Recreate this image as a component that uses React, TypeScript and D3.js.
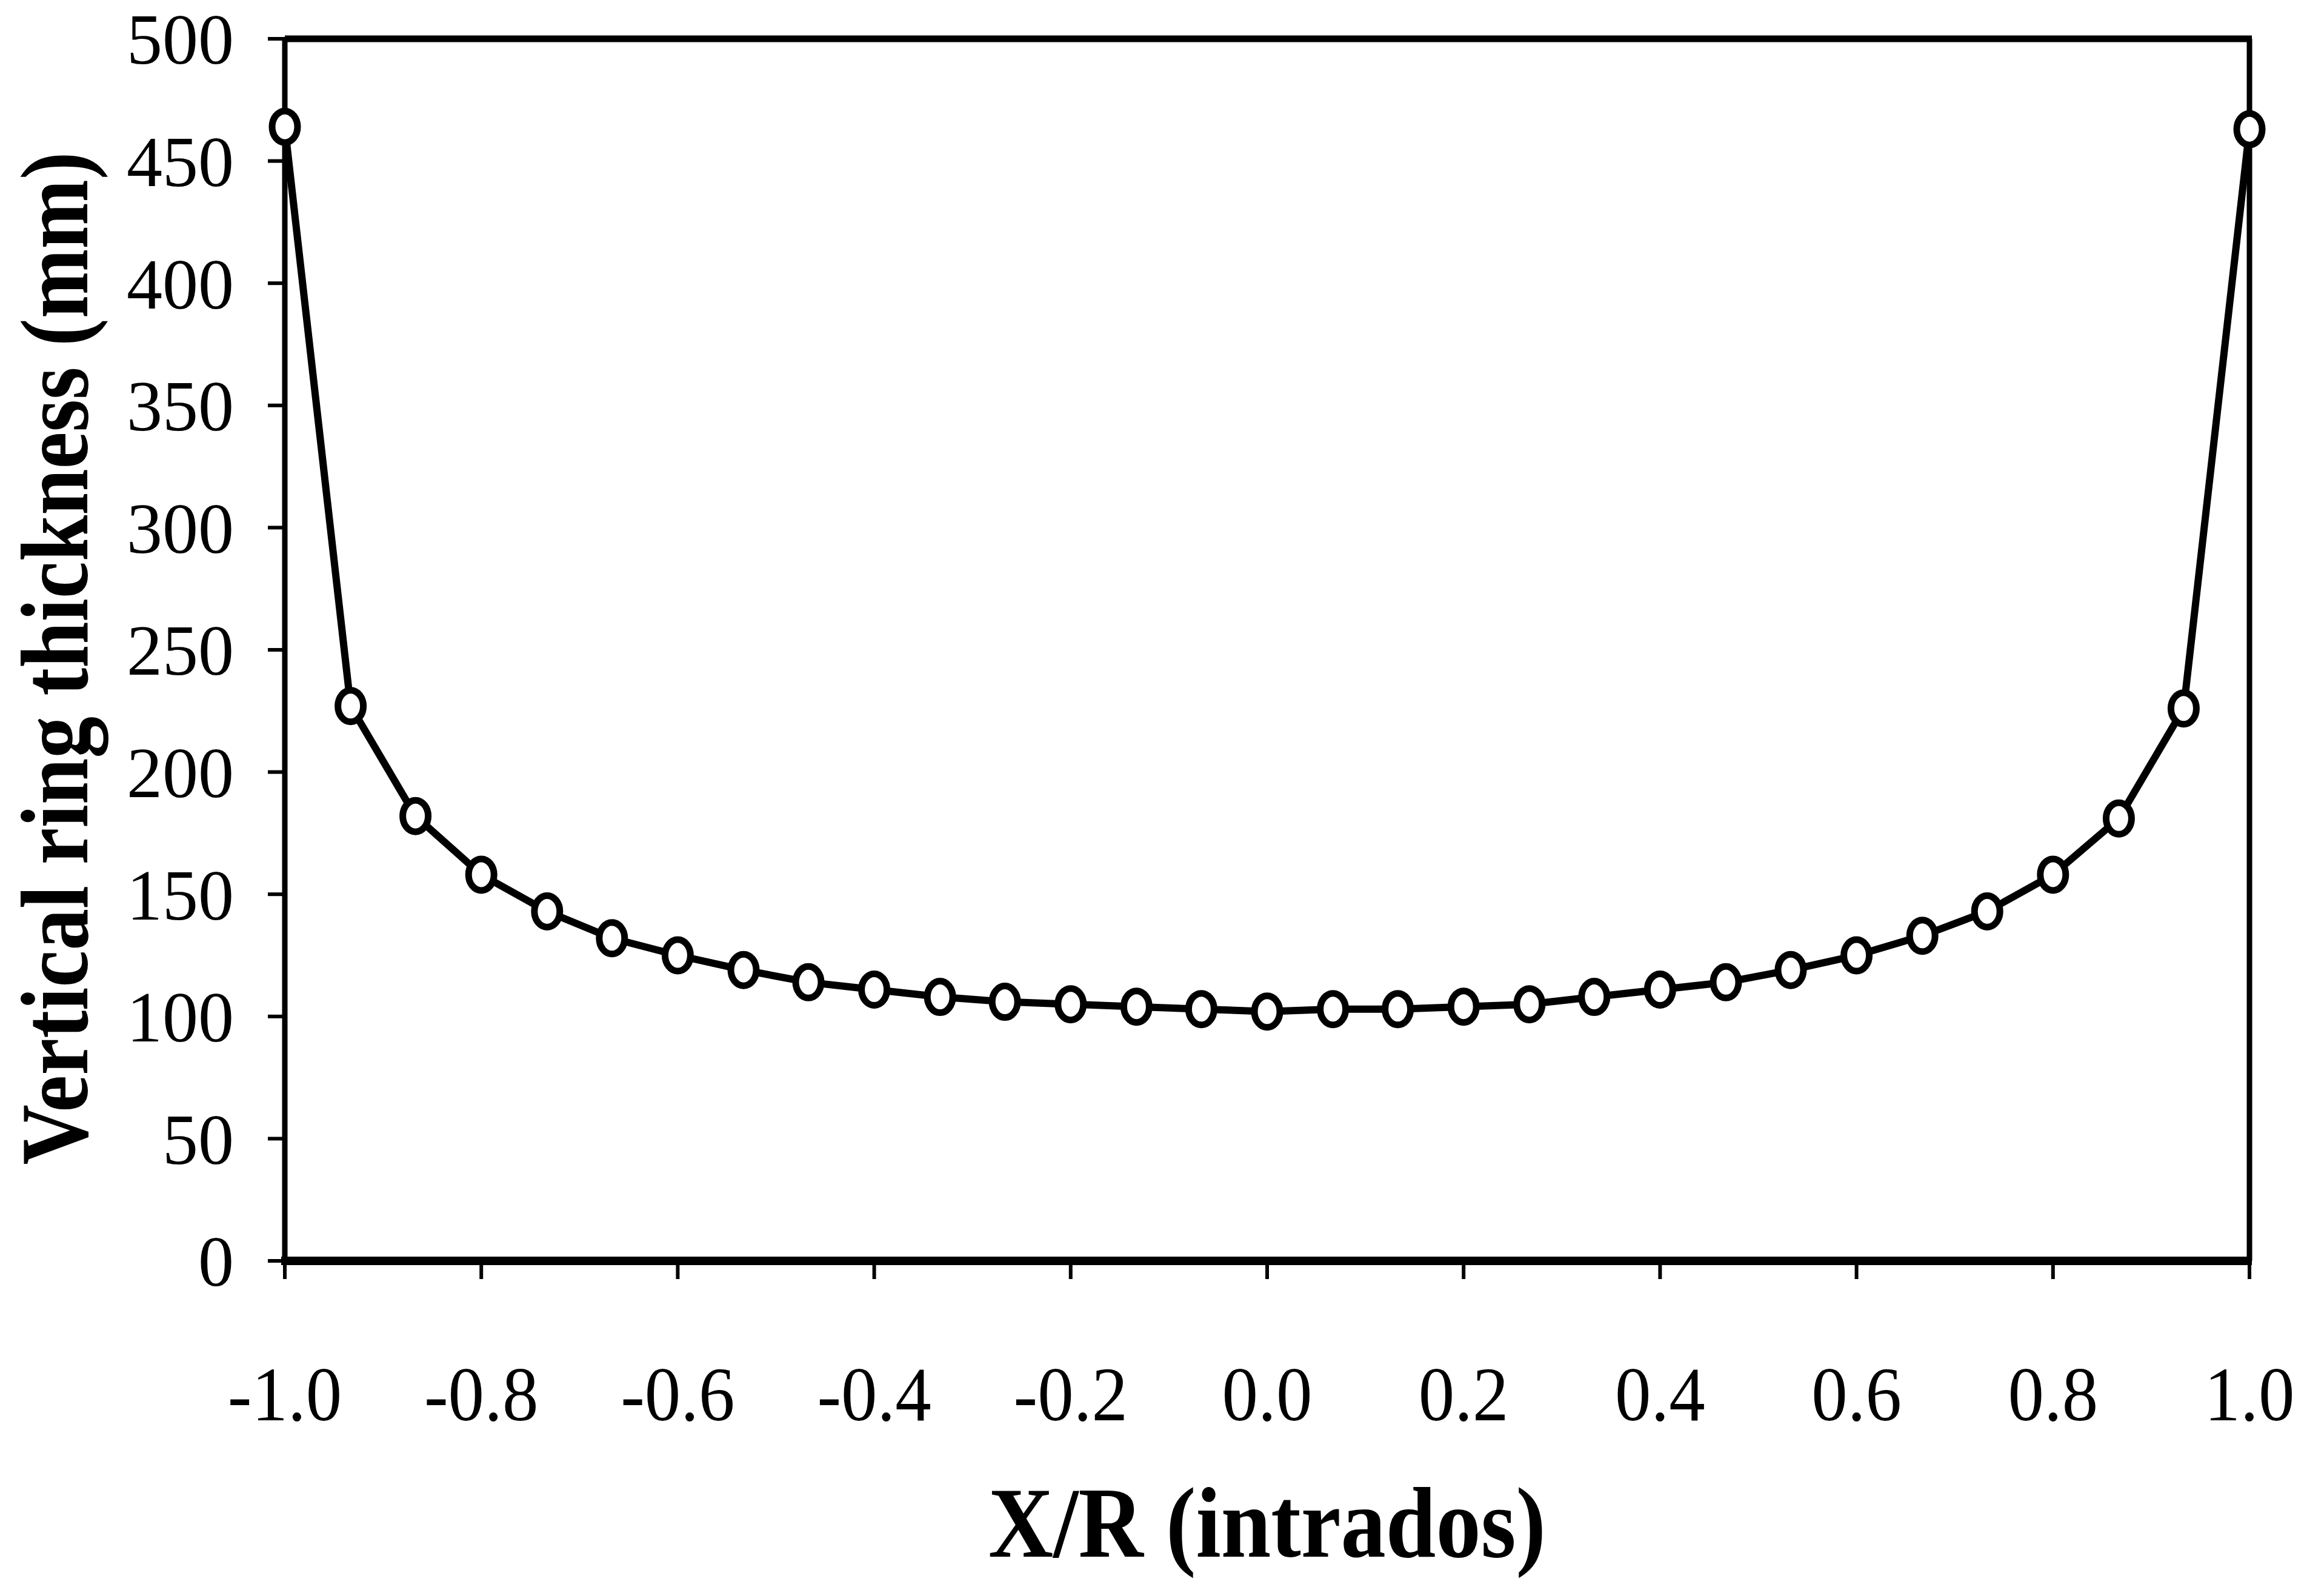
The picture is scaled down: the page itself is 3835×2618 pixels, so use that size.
import React from "react";
import * as d3 from "d3";

const xRatio: number[] = [
  -1.0, -0.933, -0.867, -0.8, -0.733, -0.667, -0.6, -0.533, -0.467, -0.4, -0.333,
  -0.267, -0.2, -0.133, -0.067, 0.0, 0.067, 0.133, 0.2, 0.267, 0.333, 0.4,
  0.467, 0.533, 0.6, 0.667, 0.733, 0.8, 0.867, 0.933, 1.0,
];
const thickness: number[] = [
  464, 227, 182, 158, 143, 132, 125, 119, 114, 111, 108, 106, 105, 104, 103, 102,
  103, 103, 104, 105, 108, 111, 114, 119, 125, 133, 143, 158, 181, 226, 463,
];
const xTicks: number[] = [-1.0, -0.8, -0.6, -0.4, -0.2, 0.0, 0.2, 0.4, 0.6, 0.8, 1.0];
const yTicks: number[] = [0, 50, 100, 150, 200, 250, 300, 350, 400, 450, 500];
const xTitle = "X/R (intrados)";
const yTitle = "Vertical ring thickness (mm)";

const W = 3835;
const H = 2618;
const FONT = "'Liberation Serif', 'Times New Roman', serif";

export default function App() {
  const left = 470;
  const right = 3712;
  const top = 64;
  const bottom = 2080;
  const x = d3.scaleLinear().domain([-1, 1]).range([left, right]);
  const y = d3.scaleLinear().domain([0, 500]).range([bottom, top]);
  const pts = xRatio.map((v, i) => [v, thickness[i]] as [number, number]);
  const line = d3
    .line<[number, number]>()
    .x((d) => x(d[0]))
    .y((d) => y(d[1]));

  return (
    <svg
      width={W}
      height={H}
      viewBox={`0 0 ${W} ${H}`}
      style={{ position: "absolute", left: 0, top: 0, display: "block", background: "#fff" }}
    >
      <rect x={0} y={0} width={W} height={H} fill="#fff" />
      {/* frame */}
      <line x1={left} y1={top} x2={right + 4} y2={top} stroke="#000" strokeWidth={11} />
      <line x1={right} y1={top} x2={right} y2={bottom} stroke="#000" strokeWidth={9} />
      <line x1={left} y1={top} x2={left} y2={bottom} stroke="#000" strokeWidth={9} />
      <line x1={left - 6} y1={bottom} x2={right + 4} y2={bottom} stroke="#000" strokeWidth={14} />
      {/* y ticks */}
      {yTicks.map((t) => (
        <g key={"y" + t}>
          <line x1={left - 28} x2={left} y1={y(t)} y2={y(t)} stroke="#000" strokeWidth={6} />
          <text
            transform={`translate(386,${y(t)})`}
            dy="0.35em"
            textAnchor="end"
            fontFamily={FONT}
            fontSize={118}
            fill="#000"
          >
            {t}
          </text>
        </g>
      ))}
      {/* x ticks */}
      {xTicks.map((t) => (
        <g key={"x" + t}>
          <line x1={x(t)} x2={x(t)} y1={bottom} y2={bottom + 30} stroke="#000" strokeWidth={6} />
          <text
            transform={`translate(${x(t)},2343) scale(0.93,1)`}
            textAnchor="middle"
            fontFamily={FONT}
            fontSize={128}
            fill="#000"
          >
            {t.toFixed(1)}
          </text>
        </g>
      ))}
      {/* data line */}
      <path d={line(pts) || ""} fill="none" stroke="#000" strokeWidth={12} strokeLinejoin="round" />
      {pts.map((d, i) => (
        <ellipse
          key={"p" + i}
          cx={x(d[0])}
          cy={y(d[1])}
          rx={21}
          ry={26}
          fill="#fff"
          stroke="#000"
          strokeWidth={11}
        />
      ))}
      {/* titles */}
      <text
        transform={`translate(2091,2568) scale(0.9,1)`}
        textAnchor="middle"
        fontFamily={FONT}
        fontWeight="bold"
        fontSize={165}
        fill="#000"
      >
        {xTitle}
      </text>
      <text
        transform={`translate(144,1086) rotate(-90) scale(0.87,1)`}
        textAnchor="middle"
        fontFamily={FONT}
        fontWeight="bold"
        fontSize={158}
        fill="#000"
      >
        {yTitle}
      </text>
    </svg>
  );
}
